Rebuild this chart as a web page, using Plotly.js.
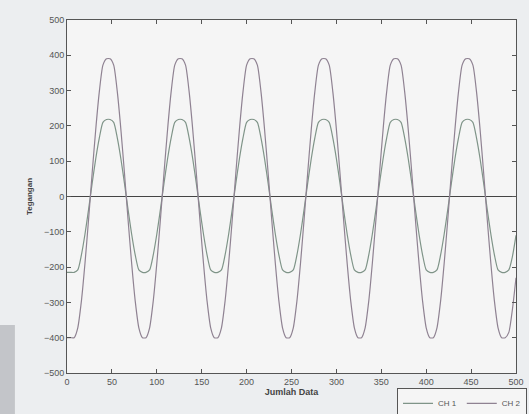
<!DOCTYPE html>
<html>
<head>
<meta charset="utf-8">
<script src="https://cdn.plot.ly/plotly-3.0.1.min.js"></script>
<style>
  html, body { margin: 0; padding: 0; background: #eceef0; }
  #chart { width: 529px; height: 414px; }
</style>
</head>
<body>
<div id="chart"></div>
<script>
// Sample index (Jumlah Data)
const jumlahData = [
  0, 4, 8, 12, 16, 20, 24, 28, 32, 36, 40, 44, 48, 52, 56, 60, 64, 68, 72, 76,
  80, 84, 88, 92, 96, 100, 104, 108, 112, 116, 120, 124, 128, 132, 136, 140, 144, 148, 152, 156,
  160, 164, 168, 172, 176, 180, 184, 188, 192, 196, 200, 204, 208, 212, 216, 220, 224, 228, 232, 236,
  240, 244, 248, 252, 256, 260, 264, 268, 272, 276, 280, 284, 288, 292, 296, 300, 304, 308, 312, 316,
  320, 324, 328, 332, 336, 340, 344, 348, 352, 356, 360, 364, 368, 372, 376, 380, 384, 388, 392, 396,
  400, 404, 408, 412, 416, 420, 424, 428, 432, 436, 440, 444, 448, 452, 456, 460, 464, 468, 472, 476,
  480, 484, 488, 492, 496, 500
];

// CH 1 (Tegangan) - smaller clipped wave
const ch1 = [
  -215, -215,
  -215, -208, -166, -107, -37, 37, 107, 166, 210, 218, 218, 210, 166, 107, 37, -37, -107, -166, -208, -215,
  -215, -208, -166, -107, -37, 37, 107, 166, 210, 218, 218, 210, 166, 107, 37, -37, -107, -166, -208, -215,
  -215, -208, -166, -107, -37, 37, 107, 166, 210, 218, 218, 210, 166, 107, 37, -37, -107, -166, -208, -215,
  -215, -208, -166, -107, -37, 37, 107, 166, 210, 218, 218, 210, 166, 107, 37, -37, -107, -166, -208, -215,
  -215, -208, -166, -107, -37, 37, 107, 166, 210, 218, 218, 210, 166, 107, 37, -37, -107, -166, -208, -215,
  -215, -208, -166, -107, -37, 37, 107, 166, 210, 218, 218, 210, 166, 107, 37, -37, -107, -166, -208, -215,
  -215, -208, -170, -110
];

// CH 2 (Tegangan) - larger clipped wave
const ch2 = [
  -400, -400,
  -400, -372, -297, -190, -66, 66, 190, 297, 372, 390, 390, 372, 297, 190, 66, -66, -190, -297, -372, -400,
  -400, -372, -297, -190, -66, 66, 190, 297, 372, 390, 390, 372, 297, 190, 66, -66, -190, -297, -372, -400,
  -400, -372, -297, -190, -66, 66, 190, 297, 372, 390, 390, 372, 297, 190, 66, -66, -190, -297, -372, -400,
  -400, -372, -297, -190, -66, 66, 190, 297, 372, 390, 390, 372, 297, 190, 66, -66, -190, -297, -372, -400,
  -400, -372, -297, -190, -66, 66, 190, 297, 372, 390, 390, 372, 297, 190, 66, -66, -190, -297, -372, -400,
  -400, -372, -297, -190, -66, 66, 190, 297, 372, 390, 390, 372, 297, 190, 66, -66, -190, -297, -372, -400,
  -400, -385, -320, -230
];

const seriesNames = ["CH 1", "CH 2"];
const xTicks = [0, 50, 100, 150, 200, 250, 300, 350, 400, 450, 500];
const yTicks = [-500, -400, -300, -200, -100, 0, 100, 200, 300, 400, 500];

const traces = [
  {
    x: jumlahData, y: ch1, name: seriesNames[0], type: "scatter", mode: "lines",
    line: { color: "#7f9488", width: 1.2, shape: "spline", smoothing: 0.6 }
  },
  {
    x: jumlahData, y: ch2, name: seriesNames[1], type: "scatter", mode: "lines",
    line: { color: "#8f8292", width: 1.2, shape: "spline", smoothing: 0.6 }
  }
];

const fam = "Liberation Sans, Arial, sans-serif";
const axisCommon = {
  showline: true, linecolor: "#555", linewidth: 1,
  mirror: "ticks", ticks: "inside", ticklen: 4, tickcolor: "#555",
  showgrid: false, automargin: false,
  tickfont: { family: fam, size: 9, color: "#555" }
};

const layout = {
  width: 529, height: 414,
  margin: { l: 67, r: 13, t: 20, b: 41, autoexpand: false },
  paper_bgcolor: "#eceef0",
  plot_bgcolor: "#f5f5f5",
  showlegend: true,
  legend: {
    orientation: "h",
    x: 1.0245, xanchor: "right", y: -0.042, yanchor: "top",
    bgcolor: "#f5f5f5", bordercolor: "#555", borderwidth: 1,
    font: { family: fam, size: 8, color: "#555" },
    itemwidth: 30
  },
  xaxis: Object.assign({}, axisCommon, {
    range: [0, 500], tickvals: xTicks, zeroline: false,
    title: { text: "<b>Jumlah Data</b>", standoff: 2,
      font: { family: fam, size: 9, color: "#444" } }
  }),
  yaxis: Object.assign({}, axisCommon, {
    range: [-500, 500], tickvals: yTicks,
    zeroline: true, zerolinecolor: "#444", zerolinewidth: 1.2,
    title: { text: "<b>Tegangan</b>", standoff: 10,
      font: { family: fam, size: 8, color: "#444" } }
  }),
  shapes: [
    { type: "rect", xref: "paper", yref: "paper", x0: -0.15, x1: -0.116, y0: -0.117, y1: 0.136,
      fillcolor: "#c3c5c9", line: { width: 0 }, layer: "below" }
  ]
};

Plotly.newPlot("chart", traces, layout, { displayModeBar: false, staticPlot: true });
</script>
</body>
</html>
